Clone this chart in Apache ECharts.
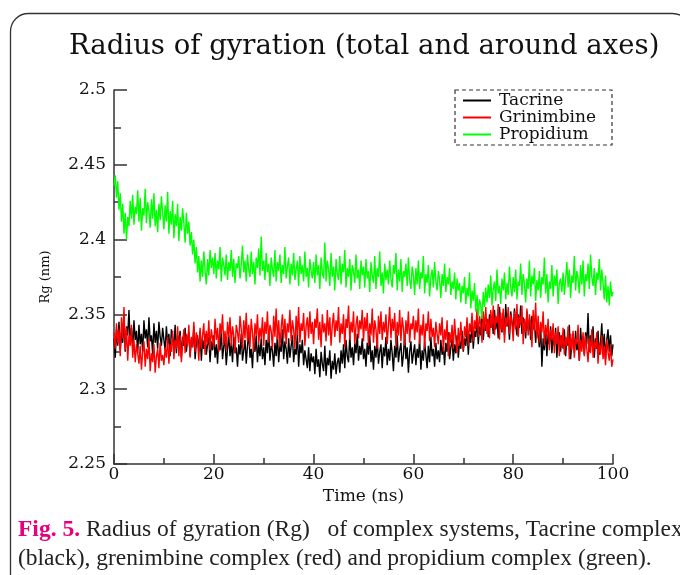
<!DOCTYPE html>
<html>
<head>
<meta charset="utf-8">
<script src="https://cdn.jsdelivr.net/npm/echarts@6/dist/echarts.min.js"></script>
<style>html,body{margin:0;padding:0;background:#fff;}#chart{width:680px;height:575px;}</style>
</head>
<body>
<div id="chart"></div>
<script>
const titleText = 'Radius of gyration (total and around axes)';
const xAxisName = 'Time (ns)';
const yAxisName = 'Rg (nm)';
const seriesNames = ['Tacrine', 'Grinimbine', 'Propidium'];
const xTicks = [0, 20, 40, 60, 80, 100];
const yTicks = [2.25, 2.3, 2.35, 2.4, 2.45, 2.5];

const time = [
0,0.25,0.5,0.75,1,1.25,1.5,1.75,2,2.25,2.5,2.75,3,3.25,3.5,3.75,4,4.25,4.5,4.75,
5,5.25,5.5,5.75,6,6.25,6.5,6.75,7,7.25,7.5,7.75,8,8.25,8.5,8.75,9,9.25,9.5,9.75,
10,10.25,10.5,10.75,11,11.25,11.5,11.75,12,12.25,12.5,12.75,13,13.25,13.5,13.75,14,14.25,14.5,14.75,
15,15.25,15.5,15.75,16,16.25,16.5,16.75,17,17.25,17.5,17.75,18,18.25,18.5,18.75,19,19.25,19.5,19.75,
20,20.25,20.5,20.75,21,21.25,21.5,21.75,22,22.25,22.5,22.75,23,23.25,23.5,23.75,24,24.25,24.5,24.75,
25,25.25,25.5,25.75,26,26.25,26.5,26.75,27,27.25,27.5,27.75,28,28.25,28.5,28.75,29,29.25,29.5,29.75,
30,30.25,30.5,30.75,31,31.25,31.5,31.75,32,32.25,32.5,32.75,33,33.25,33.5,33.75,34,34.25,34.5,34.75,
35,35.25,35.5,35.75,36,36.25,36.5,36.75,37,37.25,37.5,37.75,38,38.25,38.5,38.75,39,39.25,39.5,39.75,
40,40.25,40.5,40.75,41,41.25,41.5,41.75,42,42.25,42.5,42.75,43,43.25,43.5,43.75,44,44.25,44.5,44.75,
45,45.25,45.5,45.75,46,46.25,46.5,46.75,47,47.25,47.5,47.75,48,48.25,48.5,48.75,49,49.25,49.5,49.75,
50,50.25,50.5,50.75,51,51.25,51.5,51.75,52,52.25,52.5,52.75,53,53.25,53.5,53.75,54,54.25,54.5,54.75,
55,55.25,55.5,55.75,56,56.25,56.5,56.75,57,57.25,57.5,57.75,58,58.25,58.5,58.75,59,59.25,59.5,59.75,
60,60.25,60.5,60.75,61,61.25,61.5,61.75,62,62.25,62.5,62.75,63,63.25,63.5,63.75,64,64.25,64.5,64.75,
65,65.25,65.5,65.75,66,66.25,66.5,66.75,67,67.25,67.5,67.75,68,68.25,68.5,68.75,69,69.25,69.5,69.75,
70,70.25,70.5,70.75,71,71.25,71.5,71.75,72,72.25,72.5,72.75,73,73.25,73.5,73.75,74,74.25,74.5,74.75,
75,75.25,75.5,75.75,76,76.25,76.5,76.75,77,77.25,77.5,77.75,78,78.25,78.5,78.75,79,79.25,79.5,79.75,
80,80.25,80.5,80.75,81,81.25,81.5,81.75,82,82.25,82.5,82.75,83,83.25,83.5,83.75,84,84.25,84.5,84.75,
85,85.25,85.5,85.75,86,86.25,86.5,86.75,87,87.25,87.5,87.75,88,88.25,88.5,88.75,89,89.25,89.5,89.75,
90,90.25,90.5,90.75,91,91.25,91.5,91.75,92,92.25,92.5,92.75,93,93.25,93.5,93.75,94,94.25,94.5,94.75,
95,95.25,95.5,95.75,96,96.25,96.5,96.75,97,97.25,97.5,97.75,98,98.25,98.5,98.75,99,99.25,99.5,99.75,
100];

const tacrine = [
2.334,2.321,2.340,2.329,2.345,2.326,2.338,2.331,2.347,2.325,2.342,2.336,2.353,2.330,2.341,2.327,2.346,2.333,2.339,2.324,
2.343,2.330,2.337,2.325,2.346,2.334,2.340,2.328,2.348,2.332,2.336,2.323,2.344,2.331,2.339,2.327,2.345,2.335,2.329,2.341,
2.333,2.326,2.342,2.330,2.337,2.322,2.340,2.334,2.328,2.343,2.324,2.336,2.331,2.339,2.321,2.335,2.329,2.341,2.325,2.333,
2.338,2.322,2.334,2.328,2.342,2.320,2.331,2.336,2.325,2.339,2.319,2.333,2.327,2.337,2.323,2.330,2.335,2.318,2.332,2.326,
2.336,2.321,2.330,2.317,2.334,2.326,2.339,2.320,2.329,2.333,2.316,2.327,2.336,2.322,2.331,2.318,2.335,2.324,2.328,2.315,
2.330,2.323,2.337,2.319,2.326,2.333,2.317,2.329,2.338,2.321,2.327,2.314,2.332,2.325,2.336,2.318,2.330,2.322,2.334,2.320,
2.328,2.316,2.333,2.324,2.339,2.319,2.329,2.326,2.315,2.331,2.322,2.337,2.318,2.330,2.325,2.340,2.320,2.332,2.327,2.317,
2.334,2.321,2.329,2.336,2.318,2.327,2.323,2.338,2.315,2.330,2.324,2.333,2.316,2.326,2.320,2.314,2.328,2.312,2.324,2.318,
2.322,2.310,2.327,2.315,2.320,2.308,2.325,2.317,2.312,2.329,2.309,2.321,2.316,2.326,2.307,2.319,2.313,2.324,2.310,2.318,
2.321,2.311,2.326,2.317,2.330,2.314,2.333,2.322,2.318,2.336,2.321,2.328,2.316,2.331,2.324,2.337,2.319,2.329,2.323,2.334,
2.320,2.327,2.315,2.331,2.323,2.336,2.318,2.326,2.313,2.329,2.321,2.334,2.317,2.325,2.330,2.314,2.328,2.322,2.335,2.316,
2.327,2.319,2.333,2.324,2.312,2.329,2.321,2.336,2.318,2.326,2.331,2.315,2.323,2.337,2.320,2.328,2.311,2.325,2.332,2.317,
2.324,2.330,2.316,2.327,2.321,2.334,2.313,2.326,2.319,2.332,2.323,2.314,2.329,2.318,2.335,2.322,2.327,2.315,2.331,2.320,
2.326,2.318,2.333,2.323,2.329,2.316,2.331,2.325,2.338,2.320,2.328,2.334,2.319,2.330,2.324,2.336,2.321,2.332,2.327,2.339,
2.325,2.334,2.329,2.341,2.323,2.337,2.331,2.344,2.327,2.339,2.335,2.346,2.330,2.342,2.336,2.349,2.333,2.344,2.339,2.347,
2.335,2.350,2.341,2.346,2.337,2.353,2.340,2.348,2.334,2.355,2.343,2.338,2.351,2.336,2.357,2.342,2.347,2.333,2.352,2.345,
2.339,2.354,2.343,2.336,2.350,2.341,2.356,2.337,2.348,2.344,2.334,2.352,2.339,2.346,2.333,2.349,2.340,2.345,2.331,2.342,
2.336,2.328,2.343,2.315,2.334,2.326,2.340,2.322,2.337,2.330,2.342,2.324,2.335,2.329,2.341,2.321,2.333,2.338,2.325,2.336,
2.327,2.340,2.322,2.334,2.329,2.343,2.320,2.331,2.337,2.324,2.339,2.326,2.332,2.319,2.341,2.328,2.335,2.323,2.338,2.330,
2.351,2.325,2.336,2.329,2.342,2.321,2.334,2.327,2.339,2.323,2.331,2.344,2.326,2.337,2.320,2.333,2.340,2.325,2.336,2.322,
2.330];

const grinimbine = [
2.338,2.327,2.344,2.331,2.340,2.322,2.348,2.334,2.355,2.326,2.341,2.319,2.336,2.329,2.343,2.321,2.333,2.318,2.330,2.324,
2.317,2.329,2.313,2.325,2.332,2.315,2.327,2.320,2.334,2.312,2.324,2.318,2.330,2.311,2.322,2.327,2.314,2.331,2.319,2.323,
2.316,2.328,2.321,2.335,2.317,2.330,2.325,2.339,2.320,2.333,2.327,2.342,2.322,2.336,2.318,2.331,2.340,2.324,2.337,2.329,
2.343,2.321,2.335,2.328,2.345,2.325,2.338,2.332,2.319,2.341,2.327,2.336,2.344,2.323,2.339,2.330,2.346,2.326,2.340,2.334,
2.328,2.347,2.333,2.341,2.325,2.344,2.337,2.350,2.330,2.339,2.326,2.345,2.335,2.348,2.329,2.342,2.336,2.324,2.343,2.338,
2.331,2.349,2.340,2.327,2.346,2.334,2.351,2.332,2.343,2.328,2.347,2.338,2.325,2.344,2.336,2.350,2.330,2.341,2.334,2.348,
2.329,2.345,2.337,2.352,2.331,2.343,2.339,2.327,2.349,2.335,2.354,2.333,2.346,2.328,2.341,2.350,2.334,2.347,2.330,2.344,
2.338,2.353,2.332,2.346,2.340,2.327,2.349,2.336,2.355,2.331,2.344,2.339,2.351,2.329,2.342,2.348,2.334,2.352,2.337,2.345,
2.330,2.347,2.341,2.354,2.333,2.345,2.328,2.350,2.338,2.344,2.332,2.353,2.336,2.348,2.329,2.343,2.351,2.335,2.346,2.339,
2.355,2.331,2.344,2.337,2.350,2.328,2.347,2.341,2.356,2.333,2.345,2.338,2.352,2.330,2.343,2.349,2.334,2.346,2.340,2.353,
2.332,2.348,2.339,2.351,2.329,2.344,2.336,2.354,2.331,2.346,2.340,2.327,2.349,2.337,2.352,2.333,2.345,2.338,2.350,2.330,
2.343,2.355,2.334,2.347,2.339,2.351,2.328,2.345,2.336,2.353,2.332,2.348,2.341,2.329,2.346,2.337,2.352,2.331,2.344,2.340,
2.349,2.333,2.346,2.338,2.354,2.330,2.343,2.336,2.350,2.327,2.344,2.339,2.352,2.332,2.347,2.335,2.341,2.328,2.345,2.337,
2.330,2.344,2.336,2.348,2.325,2.340,2.333,2.346,2.322,2.338,2.331,2.343,2.327,2.347,2.334,2.324,2.341,2.329,2.345,2.332,
2.326,2.342,2.335,2.348,2.329,2.344,2.338,2.351,2.332,2.346,2.340,2.354,2.335,2.349,2.343,2.331,2.352,2.339,2.355,2.337,
2.347,2.334,2.353,2.341,2.356,2.336,2.349,2.344,2.357,2.333,2.351,2.339,2.354,2.331,2.348,2.342,2.355,2.337,2.350,2.345,
2.332,2.352,2.340,2.357,2.335,2.349,2.343,2.356,2.330,2.347,2.338,2.354,2.336,2.350,2.344,2.328,2.353,2.339,2.358,2.334,
2.349,2.331,2.345,2.338,2.352,2.329,2.343,2.335,2.347,2.326,2.340,2.333,2.344,2.324,2.338,2.330,2.342,2.322,2.336,2.328,
2.341,2.323,2.335,2.329,2.342,2.320,2.337,2.326,2.339,2.321,2.334,2.330,2.343,2.319,2.333,2.325,2.338,2.322,2.336,2.327,
2.318,2.334,2.324,2.340,2.321,2.332,2.327,2.338,2.317,2.331,2.323,2.336,2.320,2.329,2.316,2.333,2.325,2.319,2.330,2.315,
2.320];

const propidium = [
2.436,2.443,2.428,2.439,2.420,2.431,2.412,2.424,2.404,2.418,2.400,2.415,2.409,2.426,2.414,2.430,2.410,2.422,2.417,2.433,
2.412,2.428,2.406,2.421,2.416,2.434,2.411,2.425,2.419,2.408,2.427,2.414,2.431,2.409,2.420,2.405,2.424,2.413,2.429,2.418,
2.407,2.423,2.412,2.432,2.404,2.419,2.410,2.426,2.401,2.417,2.409,2.424,2.399,2.415,2.406,2.421,2.411,2.398,2.418,2.404,
2.412,2.396,2.405,2.390,2.400,2.384,2.395,2.378,2.389,2.372,2.386,2.375,2.392,2.379,2.370,2.387,2.376,2.393,2.381,2.388,
2.377,2.391,2.374,2.386,2.380,2.395,2.372,2.388,2.383,2.376,2.390,2.373,2.385,2.379,2.393,2.375,2.387,2.371,2.384,2.381,
2.389,2.374,2.383,2.396,2.378,2.386,2.372,2.390,2.380,2.375,2.392,2.377,2.385,2.370,2.388,2.381,2.394,2.376,2.402,2.379,
2.386,2.373,2.391,2.378,2.384,2.369,2.388,2.380,2.375,2.393,2.372,2.385,2.379,2.390,2.371,2.383,2.377,2.395,2.374,2.382,
2.388,2.370,2.384,2.376,2.391,2.373,2.380,2.386,2.369,2.389,2.377,2.383,2.372,2.392,2.375,2.381,2.368,2.387,2.379,2.374,
2.385,2.371,2.390,2.376,2.383,2.367,2.388,2.378,2.374,2.398,2.372,2.386,2.380,2.369,2.391,2.375,2.382,2.366,2.387,2.377,
2.373,2.389,2.370,2.384,2.378,2.393,2.368,2.381,2.375,2.387,2.366,2.383,2.379,2.371,2.390,2.374,2.380,2.367,2.386,2.376,
2.382,2.368,2.387,2.374,2.379,2.365,2.385,2.376,2.371,2.389,2.367,2.381,2.375,2.392,2.369,2.378,2.364,2.384,2.373,2.380,
2.370,2.386,2.374,2.368,2.383,2.377,2.391,2.366,2.380,2.372,2.387,2.365,2.379,2.375,2.384,2.369,2.388,2.373,2.367,2.382,
2.376,2.363,2.381,2.370,2.386,2.367,2.378,2.374,2.389,2.364,2.377,2.371,2.383,2.362,2.375,2.380,2.368,2.385,2.372,2.366,
2.379,2.373,2.361,2.377,2.369,2.384,2.365,2.375,2.370,2.381,2.363,2.372,2.367,2.378,2.360,2.374,2.366,2.371,2.358,2.369,
2.364,2.375,2.357,2.368,2.362,2.378,2.354,2.366,2.359,2.371,2.352,2.363,2.349,2.360,2.356,2.347,2.365,2.355,2.368,2.358,
2.370,2.361,2.376,2.356,2.367,2.372,2.359,2.380,2.364,2.369,2.357,2.374,2.366,2.378,2.360,2.371,2.363,2.382,2.368,2.362,
2.375,2.365,2.380,2.360,2.372,2.369,2.384,2.363,2.377,2.371,2.358,2.374,2.367,2.386,2.362,2.376,2.370,2.381,2.359,2.373,
2.366,2.379,2.361,2.375,2.370,2.388,2.364,2.377,2.358,2.372,2.367,2.383,2.362,2.376,2.369,2.380,2.357,2.371,2.374,2.365,
2.378,2.363,2.373,2.385,2.368,2.380,2.361,2.376,2.371,2.389,2.366,2.379,2.374,2.364,2.383,2.370,2.386,2.362,2.377,2.372,
2.384,2.367,2.390,2.375,2.369,2.381,2.363,2.378,2.373,2.387,2.366,2.380,2.371,2.360,2.376,2.358,2.369,2.356,2.372,2.362,
2.365];

const seriesColors = ['#000000', '#ff0000', '#00ff00'];
const seriesValues = [tacrine, grinimbine, propidium];

const chart = echarts.init(document.getElementById('chart'), null, {renderer: 'canvas'});
const serifFont = 'DejaVu Serif';
const axisColor = '#333';

chart.setOption({
  animation: false,
  backgroundColor: '#fff',
  title: {
    text: titleText,
    left: 64, top: 28,
    textStyle: {fontFamily: serifFont, fontSize: 27.5, fontWeight: 'normal', color: '#111'}
  },
  legend: {
    orient: 'vertical',
    left: 455, top: 90,
    padding: [2, 16, 2, 7],
    itemGap: 0,
    itemWidth: 28, itemHeight: 15,
    itemStyle: {opacity: 0},
    borderColor: '#333', borderWidth: 1.2, borderType: [4, 3],
    textStyle: {fontFamily: serifFont, fontSize: 17, color: '#111', padding: [0, 0, 0, 3]},
    data: seriesNames
  },
  grid: {left: 114, right: 67, top: 90, bottom: 111, containLabel: false},
  xAxis: {
    type: 'value', min: 0, max: 100, interval: 20,
    name: xAxisName, nameLocation: 'middle', nameGap: 17,
    nameTextStyle: {fontFamily: serifFont, fontSize: 17, color: '#111'},
    axisLine: {show: true, lineStyle: {color: axisColor, width: 1.5}},
    axisTick: {show: true, inside: true, length: 10, lineStyle: {color: axisColor, width: 1.5}},
    minorTick: {show: true, splitNumber: 2, length: 6, lineStyle: {color: axisColor, width: 1.5}},
    axisLabel: {fontFamily: serifFont, fontSize: 17, color: '#111', margin: 2,
      formatter: v => xTicks.includes(v) ? String(v) : ''},
    splitLine: {show: false}
  },
  yAxis: {
    type: 'value', min: 2.25, max: 2.5, interval: 0.05,
    name: yAxisName, nameLocation: 'middle', nameGap: 62,
    nameTextStyle: {fontFamily: serifFont, fontSize: 13, color: '#111'},
    axisLine: {show: true, lineStyle: {color: axisColor, width: 1.5}},
    axisTick: {show: true, inside: true, length: 13, lineStyle: {color: axisColor, width: 1.5}},
    minorTick: {show: true, splitNumber: 2, length: 7, lineStyle: {color: axisColor, width: 1.5}},
    axisLabel: {fontFamily: serifFont, fontSize: 17, color: '#111', margin: 8,
      formatter: v => {
        const t = yTicks.find(y => Math.abs(y - v) < 1e-6);
        return t === undefined ? '' : String(t);
      }},
    splitLine: {show: false}
  },
  series: seriesNames.map((name, i) => ({
    name: name,
    type: 'line',
    showSymbol: false,
    symbol: 'none',
    color: seriesColors[i],
    lineStyle: {width: 1.4, color: seriesColors[i]},
    data: time.map((t, k) => [t, seriesValues[i][k]]),
    z: 2 + i
  })),
  graphic: [
    {type: 'rect', left: 8, top: 11, silent: true,
      shape: {width: 680, height: 600, r: 18},
      style: {fill: 'none', stroke: '#333', lineWidth: 1.3}},
    {type: 'text', left: 18, top: 518, silent: true,
      style: {
        text: '{fig|Fig. 5.} Radius of gyration (Rg)   of complex systems, Tacrine complex',
        font: '23.5px "Liberation Serif"', fill: '#222',
        rich: {fig: {fontFamily: 'Liberation Serif', fontSize: 23.5, fontWeight: 'bold', fill: '#e4007f', color: '#e4007f'}}
      }},
    {type: 'text', left: 18, top: 547, silent: true,
      style: {
        text: '(black), grenimbine complex (red) and propidium complex (green).',
        font: '23.5px "Liberation Serif"', fill: '#222'
      }}
  ]
});
</script>
</body>
</html>
